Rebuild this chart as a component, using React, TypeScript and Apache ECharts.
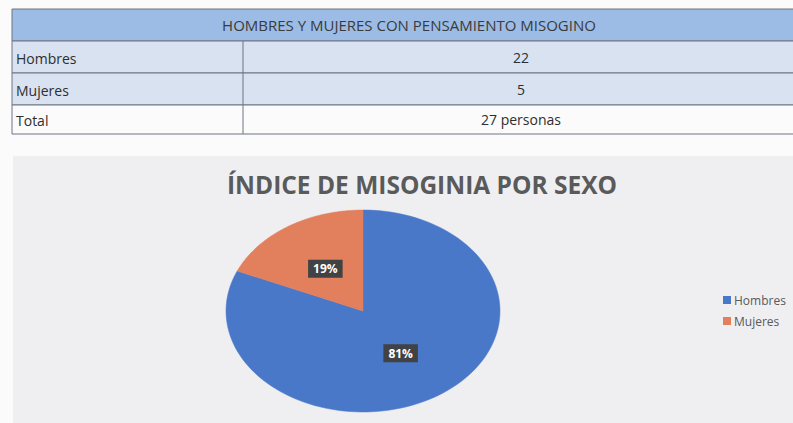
import React, { useEffect, useRef } from "react";
import * as echarts from "echarts";

const categories = ["Hombres", "Mujeres"];
const values = [22, 5];
const tableTitle = "HOMBRES Y MUJERES CON PENSAMIENTO MISOGINO";
const totalLabel = "Total";
const totalUnit = "personas";
const chartTitle = "ÍNDICE DE MISOGINIA POR SEXO";
const colors = ["#4a78c9", "#e27f5c"];

const FONT = "'Open Sans', 'Noto Sans', sans-serif";

export default function App() {
  const ref = useRef<HTMLDivElement>(null);
  useEffect(() => {
    if (!ref.current) return;
    const chart = echarts.init(ref.current, undefined, { renderer: "svg" });
    const total = values.reduce((a, b) => a + b, 0);

    // table geometry
    const tx = 12, tw = 790, colX = 243;
    const rowTops = [9, 41, 73, 105, 134];
    const rows = [
      ...categories.map((c, i) => [c, String(values[i])]),
      [totalLabel, `${total} ${totalUnit}`],
    ];
    const g: any[] = [];
    // chart panel
    g.push({ type: "rect", shape: { x: 13, y: 156, width: 790, height: 280 }, style: { fill: "#efeff2" }, z: 0 });
    // header
    g.push({ type: "rect", shape: { x: tx, y: rowTops[0], width: tw, height: rowTops[1] - rowTops[0] }, style: { fill: "#9cbce6", stroke: "#6f7480", lineWidth: 1 } });
    g.push({ type: "text", x: 409, y: (rowTops[0] + rowTops[1]) / 2, style: { text: tableTitle, fill: "#3a3a3a", font: `15px ${FONT}`, align: "center", verticalAlign: "middle" } });
    rows.forEach((r, i) => {
      const y0 = rowTops[i + 1], y1 = rowTops[i + 2];
      g.push({ type: "rect", shape: { x: tx, y: y0, width: tw, height: y1 - y0 }, style: { fill: i < 2 ? "#d8e2f1" : "#fbfbfb", stroke: "#6f7480", lineWidth: 1 } });
      g.push({ type: "line", shape: { x1: colX, y1: y0, x2: colX, y2: y1 }, style: { stroke: "#6f7480", lineWidth: 1 } });
      g.push({ type: "text", x: tx + 4, y: (y0 + y1) / 2 + 1, style: { text: r[0], fill: "#2e2e2e", font: `14px ${FONT}`, align: "left", verticalAlign: "middle" } });
      g.push({ type: "text", x: 521, y: (y0 + y1) / 2, style: { text: r[1], fill: "#2e2e2e", font: `14px ${FONT}`, align: "center", verticalAlign: "middle" } });
    });

    const cx = 363, cy = 311, rx = 137, ry = 101;
    const series = categories.map((name, si) => ({
      type: "custom",
      name,
      coordinateSystem: "none",
      itemStyle: { color: colors[si] },
      data: [[values[si]]],
      z: 3,
      renderItem: (params: any, api: any) => {
        const v = api.value(0);
        let start = 0;
        for (let k = 0; k < si; k++) start += values[k];
        const a0 = (start / total) * Math.PI * 2;
        const a1 = ((start + v) / total) * Math.PI * 2;
        const pts: number[][] = [[cx, cy]];
        const n = 120;
        for (let j = 0; j <= n; j++) {
          const a = a0 + ((a1 - a0) * j) / n;
          pts.push([cx + rx * Math.sin(a), cy - ry * Math.cos(a)]);
        }
        const am = (a0 + a1) / 2;
        const pct = Math.round((v / total) * 100) + "%";
        return {
          type: "group",
          children: [
            { type: "polygon", shape: { points: pts }, style: { fill: colors[si], stroke: colors[si], lineWidth: 0.5 } },
            {
              type: "text",
              x: cx + rx * 0.5 * Math.sin(am),
              y: cy - ry * 0.5 * Math.cos(am),
              z2: 10,
              style: {
                text: pct,
                fill: "#ffffff",
                font: `bold 12px ${FONT}`,
                align: "center",
                verticalAlign: "middle",
                backgroundColor: "#404244",
                padding: [3, 5, 3, 5],
              },
            },
          ],
        };
      },
    }));

    chart.setOption({
      animation: false,
      backgroundColor: "#fbfbfb",
      title: {
        text: chartTitle,
        left: 417,
        top: 167,
        textAlign: "center",
        textStyle: { fontFamily: FONT, fontSize: 24.5, fontWeight: "bold", color: "#5a5a5a" },
      },
      legend: {
        orient: "vertical",
        left: 718,
        top: 289,
        itemWidth: 8,
        itemHeight: 8,
        itemGap: 9,
        icon: "rect",
        data: categories,
        textStyle: { fontFamily: FONT, fontSize: 12, color: "#595959", padding: [0, 0, 0, -2] },
      },
      graphic: g,
      series,
    } as any);
    return () => chart.dispose();
  }, []);
  return <div ref={ref} style={{ position: "absolute", left: 0, top: 0, width: 793, height: 423 }} />;
}
